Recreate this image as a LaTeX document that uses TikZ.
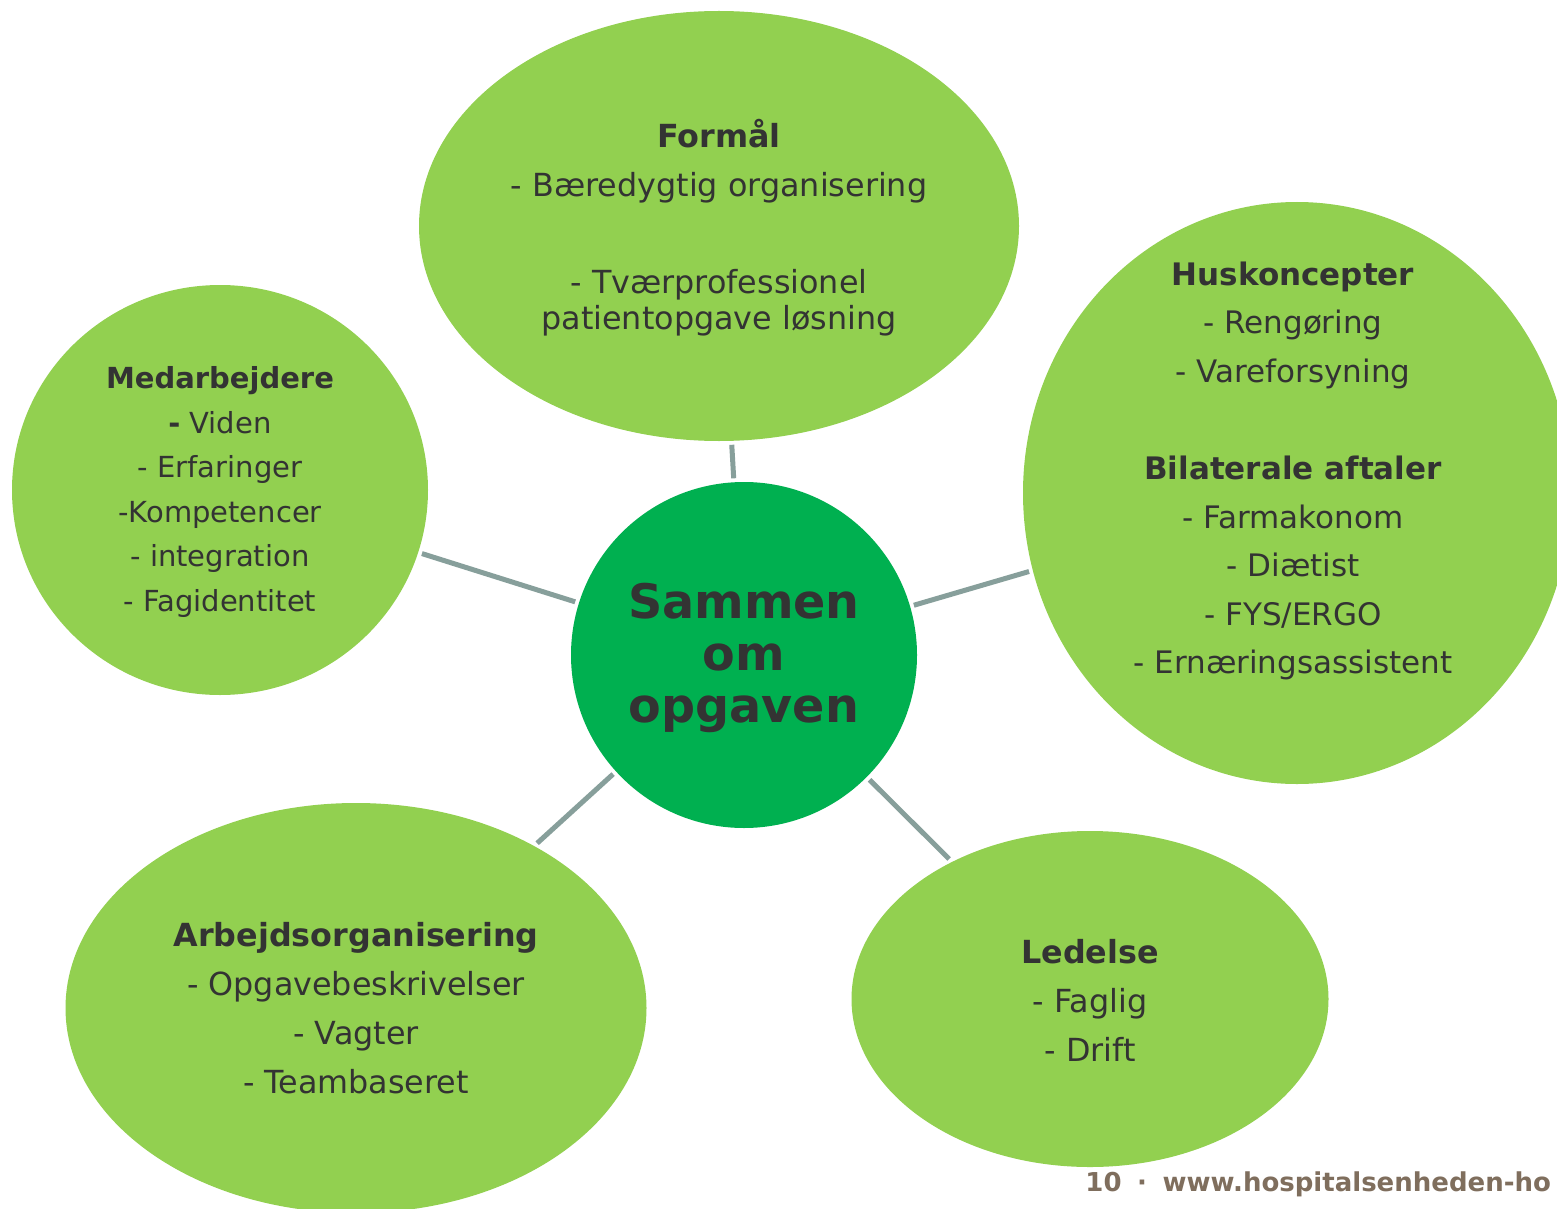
\documentclass[tikz,border=0pt]{standalone}
\usepackage{fontspec}
\setmainfont{DejaVu Sans}
\usetikzlibrary{shapes.geometric}

\definecolor{bubblegreen}{HTML}{92D050}
\definecolor{hubgreen}{HTML}{00B050}
\definecolor{inkgray}{HTML}{333333}
\definecolor{linkgray}{HTML}{879F9B}
\definecolor{footbrown}{HTML}{7F6E5D}

\begin{document}
\begin{tikzpicture}[x=0.5pt, y=-0.5pt,
    bubble/.style={ellipse, fill=bubblegreen, inner sep=0pt, outer sep=2pt},
    hub/.style={circle, fill=hubgreen, inner sep=0pt, outer sep=2pt, minimum size=173pt},
    link/.style={draw=linkgray, line width=2.5pt},
    txt/.style={text=inkgray, align=center, font=\fontsize{15.9}{24.5}\selectfont}]

    % Page frame (pixel units, y pointing down)
    \useasboundingbox (0,0) rectangle (1557,1209);
    \fill[white] (0,0) rectangle (1557,1209);

    % The six bubbles
    \node[bubble, minimum width=300pt, minimum height=215pt] (formal) at (719,226) {};
    \node[bubble, minimum width=208pt, minimum height=205pt] (medarb) at (220,490) {};
    \node[bubble, minimum width=274pt, minimum height=291pt] (husk) at (1297,493) {};
    \node[bubble, minimum width=290.5pt, minimum height=205pt] (arbejd) at (356,1008) {};
    \node[bubble, minimum width=238.5pt, minimum height=168pt] (ledelse) at (1090,999) {};
    \node[hub] (hub) at (744,655) {};

    % Spokes from the hub
    \draw[link] (hub) -- (formal);
    \draw[link] (hub) -- (medarb);
    \draw[link] (hub) -- (husk);
    \draw[link] (hub) -- (arbejd);
    \draw[link] (hub) -- (ledelse);

    % Texts
    \node[txt, font=\bfseries\fontsize{23.8}{26}\selectfont] (hubtxt) at (744,658)
        {Sammen\\om\\opgaven};
    \node[txt] (formaltxt) at (719,228)
        {\textbf{Formål}\\- Bæredygtig organisering\\[24pt]- Tværprofessionel\\[-6.5pt]patientopgave løsning};
    \node[txt, font=\fontsize{14.5}{22.3}\selectfont] (medarbtxt) at (220,492)
        {\textbf{Medarbejdere}\\\textbf{-} Viden\\- Erfaringer\\-Kompetencer\\- integration\\- Fagidentitet};
    \node[txt, font=\fontsize{15.5}{24.3}\selectfont] (husktxt) at (1293,471)
        {\textbf{Huskoncepter}\\- Rengøring\\- Vareforsyning\\[24.3pt]\textbf{Bilaterale aftaler}\\- Farmakonom\\- Diætist\\- FYS/ERGO\\- Ernæringsassistent};
    \node[txt] (arbejdtxt) at (356,1008)
        {\textbf{Arbejdsorganisering}\\- Opgavebeskrivelser\\- Vagter\\- Teambaseret};
    \node[txt] (ledelsetxt) at (1090,1000)
        {\textbf{Ledelse}\\- Faglig\\- Drift};

    % Footer
    \node[anchor=base west, inner sep=0pt, text=footbrown, font=\bfseries\fontsize{13}{15}\selectfont] (footer) at (1085,1191)
        {10\hspace{0.6em}·\hspace{0.6em}www.hospitalsenheden-ho};

\end{tikzpicture}
\end{document}
